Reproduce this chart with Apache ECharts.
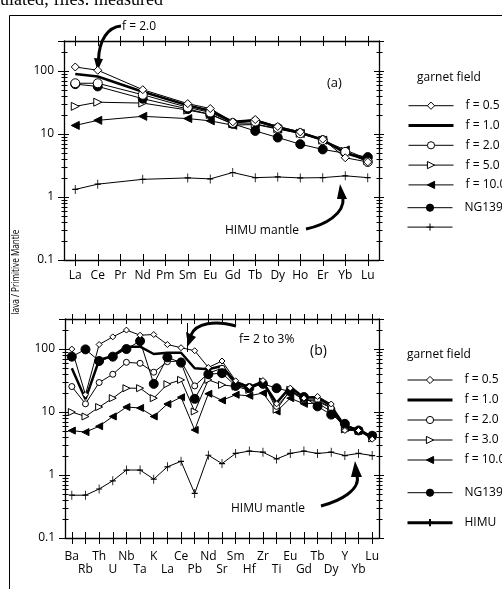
<!DOCTYPE html>
<html><head><meta charset="utf-8">
<script src="https://cdn.jsdelivr.net/npm/echarts@6/dist/echarts.min.js"></script>
<style>html,body{margin:0;padding:0;background:#fff}#c{width:502px;height:589px}</style>
</head><body><div id="c"></div>
<script>
// ---------- data ----------
const catsA = ['La','Ce','Pr','Nd','Pm','Sm','Eu','Gd','Tb','Dy','Ho','Er','Yb','Lu'];
const a_f05  = [116, 103, null, 50.6, null, 30.4, 25.4, 15.6, 17.0, 13.2, 10.8, 8.3, 4.2, 3.6];
const a_f10  = [90, 82, null, 47, null, 28.5, 23.5, 15.6, 16.5, 12.8, 10.5, 8.1, 5.0, 3.9];
const a_f20  = [64, 64, null, 42, null, 26.5, 22, 15, 15.8, 12.5, 10.3, 8.0, 5.2, 3.6];
const a_f50  = [27.5, 32, null, 31, null, 24, 20.5, 14.5, 14.5, 12.2, 10.3, 8.0, 5.3, 3.8];
const a_f100 = [13.7, 16.5, null, 19.1, null, 17.6, 16.2, 13.8, 14.2, 12.0, 10.2, 8.0, 5.6, 4.0];
const a_ng   = [62, 57, null, 36.4, null, 25, 20.5, 14.5, 11.2, 8.8, 6.9, 5.7, null, 4.3];
const a_himu = [1.32, 1.6, null, 1.91, null, 2.01, 1.94, 2.45, 2.03, 2.08, 2.01, 2.03, 2.17, 2.03];

const catsB = ['Ba','Rb','Th','U','Nb','Ta','K','La','Ce','Pb','Nd','Sr','Sm','Hf','Zr','Ti','Eu','Gd','Tb','Dy','Y','Yb','Lu'];
const b_f05  = [100, 18.8, 118, 156, 200, 166, 170, 118, 105, 94, 51, 64.6, 31.3, 25.4, 31.6, 13.5, 24, 16.6, 17.7, 13.4, 5.1, 5.1, 3.7];
const b_f10  = [49.5, 16, 67, 78, 109, 109, 83.4, 87.5, 87.5, 49.5, 47.7, 53.9, 29.5, 24.9, 29.5, 14, 25, 17, 17.2, 12.4, 5.9, 5.3, 4.0];
const b_f20  = [25.4, 13.5, 29.4, 39.8, 61.6, 59.4, 42.9, 63.1, 64.6, 26, 41.4, 49.5, 27, 23.9, 28.7, 12.3, 21.2, 15.6, 15.6, 11.6, 5.3, 5.2, 3.9];
const b_f30  = [10, 8.5, 12, 16.6, 23.9, 23.9, 16.6, 27.7, 32.4, 10.2, 32.4, 27, 25.4, 22.5, 30.5, 10.9, 22.5, 15.6, 14.7, 11.6, 5.3, 5.0, 3.8];
const b_f100 = [5.07, 4.8, 5.95, 8.5, 12, 11.6, 8.5, 13.4, 17.2, 5.2, 19.5, 15.3, 18.8, 18.1, 20, 10.2, 16.6, 13.5, 13.9, 10.2, 5.6, 5.0, 4.2];
const b_ng   = [75.7, 98.8, 64.6, 75.7, 100, 134, 28, 73.8, 60.9, 16.2, 39.8, 41.4, 26, 24, 28, 23.9, 21.2, 17.3, 12.3, 9.1, 6.5, 5.1, 4.2];
const b_himu = [0.478, 0.478, 0.6, 0.81, 1.2, 1.2, 0.86, 1.35, 1.65, 0.51, 2.06, 1.52, 2.2, 2.4, 2.3, 1.8, 2.2, 2.4, 2.2, 2.3, 2.04, 2.2, 2.04];

const yTickLabels = ['0.1', '1', '10', '100'];
const minorTicks = [0.2,0.3,0.4,0.5,0.6,0.7,0.8,0.9, 2,3,4,5,6,7,8,9, 20,30,40,50,60,70,80,90, 200];
const Y_MIN = 0.1, Y_MAX = 300;

// ---------- helpers ----------
const FONT = 'Open Sans';
const BLACK = '#000';
const yFmt = v => {
  const l = Math.log10(v), r = Math.round(l);
  if (Math.abs(l - r) > 1e-6) return '';
  return yTickLabels[r + 1] || '';
};

function xAxesFor(g, cats, labelOpt) {
  const base = {type: 'category', gridIndex: g, data: cats, boundaryGap: true,
    splitLine: {show: false}, axisPointer: {show: false}};
  const tick = (inside, len) => ({show: true, alignWithLabel: true, interval: 0, inside, length: len,
    lineStyle: {color: BLACK, width: 1}});
  return [
    Object.assign({}, base, {position: 'bottom', axisLine: {show: true, lineStyle: {color: BLACK, width: 1.3}},
      axisTick: tick(false, 6), axisLabel: labelOpt}),
    Object.assign({}, base, {position: 'bottom', axisLine: {show: false}, axisTick: tick(true, 6), axisLabel: {show: false}}),
    Object.assign({}, base, {position: 'top', axisLine: {show: true, lineStyle: {color: BLACK, width: 1.3}},
      axisTick: tick(false, 5), axisLabel: {show: false}}),
    Object.assign({}, base, {position: 'top', axisLine: {show: false}, axisTick: tick(true, 5), axisLabel: {show: false}})
  ];
}
function yAxesFor(g) {
  const base = {type: 'log', logBase: 10, gridIndex: g, min: Y_MIN, max: Y_MAX,
    splitLine: {show: false}, axisPointer: {show: false}};
  const tick = (inside, len) => ({show: true, inside, length: len, lineStyle: {color: BLACK, width: 1}});
  return [
    Object.assign({}, base, {position: 'left', axisLine: {show: true, lineStyle: {color: BLACK, width: 1.3}},
      axisTick: tick(false, 6),
      axisLabel: {show: true, formatter: yFmt, margin: 10, color: BLACK, fontFamily: FONT, fontSize: 12,
        showMinLabel: true, showMaxLabel: true}}),
    Object.assign({}, base, {position: 'left', axisLine: {show: false}, axisTick: tick(true, 5), axisLabel: {show: false}}),
    Object.assign({}, base, {position: 'right', axisLine: {show: true, lineStyle: {color: BLACK, width: 1.3}},
      axisTick: tick(false, 5), axisLabel: {show: false}}),
    Object.assign({}, base, {position: 'right', axisLine: {show: false}, axisTick: tick(true, 5), axisLabel: {show: false}})
  ];
}

const openStyle = {color: '#fff', borderColor: BLACK, borderWidth: 1};
const fillStyle = {color: BLACK, borderColor: BLACK, borderWidth: 1};
const TRI_R = 'path://M0,0L10,5L0,10Z';
const TRI_L = 'path://M10,0L0,5L10,10Z';
const PLUS = 'path://M5,0L5,10M0,5L10,5';

function mk(name, data, ax, opt) {
  return Object.assign({
    type: 'line', name, data, xAxisIndex: ax, yAxisIndex: ax, connectNulls: true,
    lineStyle: {color: BLACK, width: 1}, showSymbol: true, animation: false, silent: true,
    emphasis: {disabled: true}
  }, opt);
}

function minorSeries(ax) {
  return {
    type: 'custom', xAxisIndex: ax, yAxisIndex: ax, silent: true, animation: false, z: 1,
    data: minorTicks.map(v => [0, v]),
    renderItem: (params, api) => {
      const y = Math.round(api.coord([0, api.value(1)])[1]) + 0.5;
      const cs = params.coordSys;
      const xl = Math.round(cs.x) + 0.5, xr = Math.round(cs.x + cs.width) + 0.5;
      return {type: 'group', children: [
        {type: 'line', shape: {x1: xl - 3, y1: y, x2: xl + 3, y2: y}, style: {stroke: BLACK, lineWidth: 1}},
        {type: 'line', shape: {x1: xr - 3, y1: y, x2: xr + 3, y2: y}, style: {stroke: BLACK, lineWidth: 1}}
      ]};
    }
  };
}

const labA = {show: true, interval: 0, margin: 10, color: BLACK, fontFamily: FONT, fontSize: 12};
const labB = {show: true, interval: 0, margin: 12, color: BLACK, fontFamily: FONT, fontSize: 12, lineHeight: 13,
  formatter: (v, i) => (i % 2 ? '\n' + v : v)};

const xAxis = [].concat(xAxesFor(0, catsA, labA), xAxesFor(1, catsB, labB));
const yAxis = [].concat(yAxesFor(0), yAxesFor(1));

const series = [
  minorSeries(0),
  mk('HIMU_a', a_himu, 0, {symbol: PLUS, symbolSize: [6, 9], itemStyle: {color: BLACK, borderColor: BLACK, borderWidth: 1}}),
  mk('f = 10.0', a_f100, 0, {symbol: TRI_L, symbolSize: 8, itemStyle: fillStyle}),
  mk('f = 5.0', a_f50, 0, {symbol: TRI_R, symbolSize: 8, itemStyle: openStyle}),
  mk('NG139', a_ng, 0, {symbol: 'circle', symbolSize: 9, itemStyle: fillStyle}),
  mk('f = 2.0', a_f20, 0, {symbol: 'circle', symbolSize: 9, itemStyle: openStyle}),
  mk('f = 1.0', a_f10, 0, {symbol: 'none', lineStyle: {color: BLACK, width: 2.5}}),
  mk('f = 0.5', a_f05, 0, {symbol: 'diamond', symbolSize: 8, itemStyle: openStyle}),

  minorSeries(4),
  mk('HIMU', b_himu, 4, {symbol: PLUS, symbolSize: [6, 9], itemStyle: {color: BLACK, borderColor: BLACK, borderWidth: 1}}),
  mk('f = 10.0', b_f100, 4, {symbol: TRI_L, symbolSize: 7, itemStyle: fillStyle}),
  mk('f = 3.0', b_f30, 4, {symbol: TRI_R, symbolSize: 7, itemStyle: openStyle}),
  mk('f = 2.0', b_f20, 4, {symbol: 'circle', symbolSize: 6, itemStyle: openStyle}),
  mk('NG139', b_ng, 4, {symbol: 'circle', symbolSize: 9, itemStyle: fillStyle}),
  mk('f = 1.0', b_f10, 4, {symbol: 'none', lineStyle: {color: BLACK, width: 2.5}}),
  mk('f = 0.5', b_f05, 4, {symbol: 'diamond', symbolSize: 6, itemStyle: openStyle})
];

const legText = {color: BLACK, fontFamily: FONT, fontSize: 12, lineHeight: 14, padding: [0, 0, 0, 7]};
function leg(data, left, top, gap, extra) {
  return Object.assign({
    data, left, top, orient: 'vertical', itemWidth: 45, itemHeight: 9, itemGap: gap, padding: 0,
    selectedMode: false, textStyle: legText, itemStyle: {borderColor: BLACK, borderWidth: 1},
    lineStyle: {width: 1, color: BLACK}
  }, extra || {});
}
const thickItem = name => ({name, itemStyle: {opacity: 0}, lineStyle: {width: 3, color: BLACK}});
const legend = [
  leg(['f = 0.5', thickItem('f = 1.0'), 'f = 2.0', 'f = 5.0', 'f = 10.0'], 407, 98.7, 5.8),
  leg(['NG139', 'HIMU_a'], 407, 200.7, 8.3, {formatter: n => (n === 'HIMU_a' ? '' : n)}),
  leg(['f = 0.5', thickItem('f = 1.0'), 'f = 2.0', 'f = 3.0', 'f = 10.0'], 406, 373, 6),
  leg(['NG139', {name: 'HIMU', lineStyle: {width: 3, color: BLACK}, itemStyle: {borderWidth: 2}}], 406, 485.7, 16)
];

const txt = (text, x, y, size, extra) => Object.assign({
  type: 'text', x, y, silent: true,
  style: {text, fill: BLACK, font: size + 'px "' + FONT + '"', textAlign: 'left', align: 'left',
    textVerticalAlign: 'middle', verticalAlign: 'middle'}
}, extra || {});
const curve = (x1, y1, c1x, c1y, c2x, c2y, x2, y2) => ({type: 'bezierCurve', silent: true,
  shape: {x1, y1, cpx1: c1x, cpy1: c1y, cpx2: c2x, cpy2: c2y, x2, y2},
  style: {stroke: BLACK, lineWidth: 3, fill: null}});
const head = pts => ({type: 'polygon', silent: true, shape: {points: pts}, style: {fill: BLACK}});

const graphic = [
  {type: 'line', silent: true, shape: {x1: 9.5, y1: 15.5, x2: 502, y2: 15.5}, style: {stroke: BLACK, lineWidth: 1}},
  {type: 'line', silent: true, shape: {x1: 9.5, y1: 15.5, x2: 9.5, y2: 589}, style: {stroke: BLACK, lineWidth: 1}},
  {type: 'text', x: 0, y: 9, silent: true, style: {text: 'ulated; files: measured', fill: BLACK,
    font: '18px "Liberation Serif"', textAlign: 'left', align: 'left', textVerticalAlign: 'bottom', verticalAlign: 'bottom'}},
  txt('f = 2.0', 122, 27, 12),
  txt('(a)', 327, 83, 13),
  txt('garnet field', 417, 78, 12),
  txt('HIMU mantle', 225, 231, 12),
  txt('(b)', 310, 351, 14),
  txt('garnet field', 407, 355, 12),
  txt('f= 2 to 3%', 239, 340, 12),
  txt('HIMU mantle', 231, 509, 12),
  {type: 'text', x: 16, y: 272, rotation: Math.PI / 2, scaleX: 0.82, silent: true,
    style: {text: 'lava / Primitive Mantle', fill: BLACK, font: '10px "' + FONT + '"',
      textAlign: 'center', align: 'center', textVerticalAlign: 'middle', verticalAlign: 'middle'}},
  curve(121, 26, 108, 27, 99, 40, 98.5, 60), head([[94, 58], [97.5, 71], [103, 59]]),
  curve(236, 326, 215, 320, 196, 323, 191, 335), head([[186, 332], [188, 346], [196, 337]]),
  {type: 'line', silent: true, shape: {x1: 187.5, y1: 323, x2: 187.5, y2: 352}, style: {stroke: BLACK, lineWidth: 1}},
  curve(306, 229, 325, 225, 345, 214, 343, 197), head([[347, 199], [340, 184], [337, 199]]),
  curve(321, 506, 340, 501, 361, 490, 357, 475), head([[362, 477], [355, 461], [351, 477]])
];

const option = {
  backgroundColor: '#fff',
  animation: false,
  textStyle: {fontFamily: FONT},
  grid: [
    {left: 64, top: 41, width: 315, height: 219, outerBoundsMode: 'none', containLabel: false},
    {left: 65, top: 319, width: 314, height: 219, outerBoundsMode: 'none', containLabel: false}
  ],
  xAxis, yAxis, series, legend, graphic
};
const chart = echarts.init(document.getElementById('c'), null, {renderer: 'canvas'});
chart.setOption(option);
</script></body></html>
